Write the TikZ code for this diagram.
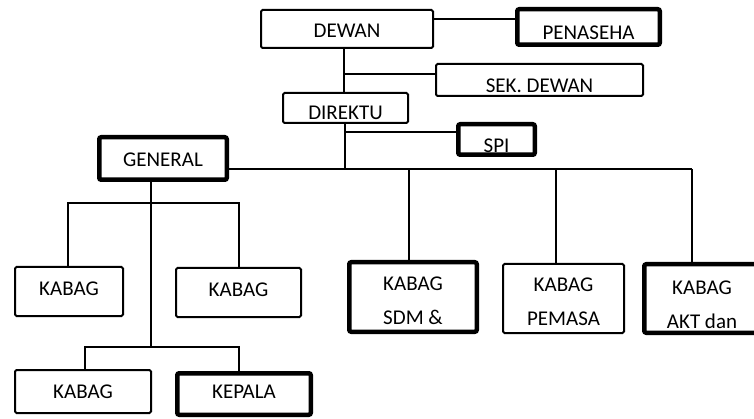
\documentclass[tikz,border=0pt]{standalone}
\usepackage{fontspec}
\setmainfont{Carlito}
\begin{document}
\begin{tikzpicture}[x=1pt,y=-1pt,
  every node/.style={inner sep=0pt, font=\fontsize{21}{34}\selectfont, align=center},
  thinbox/.style={draw=black, line width=2pt, rounded corners=1.5pt, fill=white},
  thickbox/.style={draw=black, line width=4.5pt, rounded corners=2pt, fill=white},
  link/.style={draw=black, line width=1.2pt}]
\clip (0,0) rectangle (754,419);
\fill[white] (0,0) rectangle (754,419);

% top management
\node[thinbox, minimum width=172, minimum height=38, text height=27.7, text depth=10.3] (dewan) at (347,29) {DEWAN};
\node[thickbox, minimum width=142.5, minimum height=35.5, text height=30, text depth=5.5] (penaseha) at (588.5,27) {PENASEHA};
\node[thinbox, minimum width=207, minimum height=32, text height=28.7, text depth=3.3] (sek) at (539.5,80) {SEK. DEWAN};
\node[thinbox, minimum width=125, minimum height=30, text height=27, text depth=3] (direktu) at (345.5,108) {DIREKTU};
\node[thickbox, minimum width=76.5, minimum height=30.5, text height=28.4, text depth=2.1] (spi) at (496.5,139.5) {SPI};
\node[thickbox, minimum width=127.5, minimum height=42.5, text height=29.4, text depth=13.1] (general) at (163,158.5) {GENERAL};

% units under GENERAL
\node[thinbox, minimum width=108, minimum height=49, text height=28, text depth=21] (kabagA) at (69,291.5) {KABAG};
\node[thinbox, minimum width=125, minimum height=49, text height=28, text depth=21] (kabagB) at (238.5,292.5) {KABAG};
\node[thinbox, minimum width=136, minimum height=43, text height=28.7, text depth=14.3] (kabagC) at (83,391.5) {KABAG};
\node[thickbox, minimum width=133.5, minimum height=41.5, text height=25.7, text depth=15.8] (kepala) at (244,394) {KEPALA};

% departments under DIREKTU
\node[thickbox, minimum width=127.5, minimum height=69.5, text height=62.7, text depth=6.8] (sdm) at (413,297) {KABAG\\SDM \&};
\node[thinbox, minimum width=121, minimum height=69, text height=61, text depth=8] (pemasa) at (563.5,298.5) {KABAG\\PEMASA};
\node[thickbox, minimum width=115.5, minimum height=68.5, text height=64, text depth=4.5] (akt) at (702,298.5) {KABAG\\AKT dan};

% trunk positions
\coordinate (t1) at (344,0);
\coordinate (t2) at (345,0);
\coordinate (g1) at (151,0);

% DEWAN -- PENASEHA
\draw[link] ([yshift=10pt]dewan.east) coordinate (p1) -- (p1 -| penaseha.west);
% DEWAN -- DIREKTU, with SEK. DEWAN branch
\draw[link] (dewan.south -| t1) -- (direktu.north -| t1);
\draw[link] ([yshift=6pt]sek.west) coordinate (s1) -- (s1 -| t1);
% DIREKTU down to the main bus, with SPI branch
\coordinate (bus) at (0,169);
\draw[link] (direktu.south -| t2) -- (bus -| t2);
\draw[link] ([yshift=7.5pt]spi.west) coordinate (s2) -- (s2 -| t2);
% main bus from GENERAL to the departments
\coordinate (x1) at (409,0);
\coordinate (x2) at (556,0);
\coordinate (x3) at (692,0);
\draw[link] (general.east |- bus) -- (bus -| x3);
\draw[link] (bus -| x1) -- (sdm.north -| x1);
\draw[link] (bus -| x2) -- (pemasa.north -| x2);
\draw[link] (bus -| x3) -- (akt.north -| x3);

% GENERAL sub-tree
\coordinate (r1) at (0,203);
\coordinate (r2) at (0,347);
\coordinate (c1) at (68,0);
\coordinate (c2) at (239,0);
\coordinate (c3) at (85,0);
\draw[link] (general.south -| g1) -- (r2 -| g1);
\draw[link] (kabagA.north -| c1) -- (r1 -| c1) -- (r1 -| c2) -- (kabagB.north -| c2);
\draw[link] (kabagC.north -| c3) -- (r2 -| c3) -- (r2 -| c2) -- (kepala.north -| c2);
\end{tikzpicture}
\end{document}
